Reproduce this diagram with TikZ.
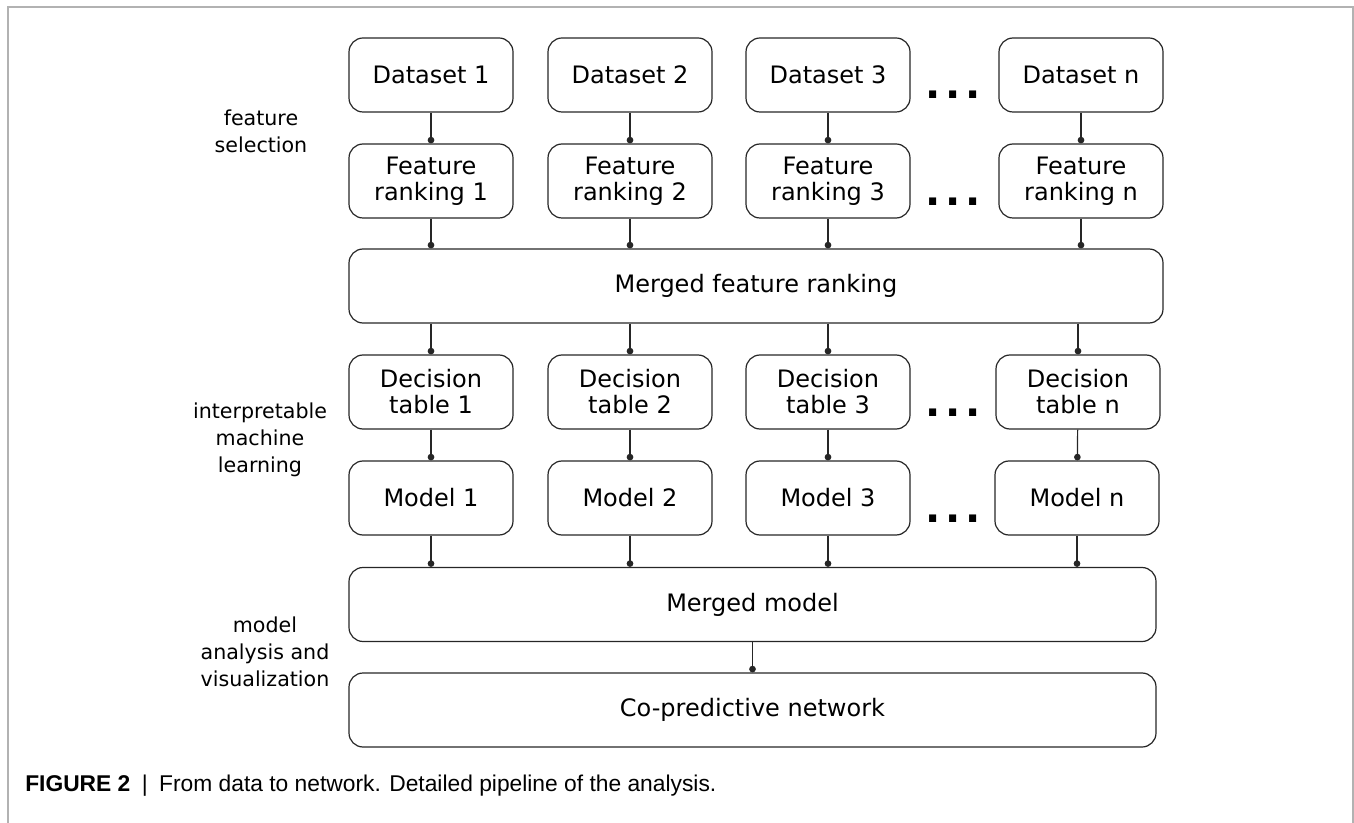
\documentclass[tikz,border=0pt]{standalone}
\usepackage{fontspec}
\setmainfont{DejaVu Sans}
\newfontfamily\capfont{Liberation Sans}
\usetikzlibrary{arrows.meta}

\begin{document}
\begin{tikzpicture}[x=0.5pt,y=-0.5pt,
    line width=0.6pt,
    box/.style={draw=black!85,rounded corners=7pt,minimum width=82pt,minimum height=37pt,
        inner sep=0pt,align=center,font=\fontsize{12}{13}\selectfont},
    widebox/.style={box,minimum width=#1},
    link/.style={draw=black!85,-{Circle[length=3.3pt]}},
    dots/.style={anchor=base,font=\bfseries\fontsize{20}{20}\selectfont},
    side/.style={align=center,font=\fontsize{10.3}{13.5}\selectfont}]
    \useasboundingbox (0,0) rectangle (1354,823);
    \draw[gray!60] (8,823)--(8,7)--(1353,7)--(1353,823);
    % stage names
    \node[side] (selection) at (261,131) {feature\\selection};
    \node[side] (learning) at (260,440) {interpretable\\machine\\learning};
    \node[side] (analysis) at (265,652) {model\\analysis and\\visualization};
    % datasets
    \node[box] (ds1) at (431,75) {Dataset 1};
    \node[box] (ds2) at (630,75) {Dataset 2};
    \node[box] (ds3) at (828,75) {Dataset 3};
    \node[box] (dsn) at (1081,75) {Dataset n};
    \node[dots] (dotsA) at (953,99) {.\kern2.5pt.\kern2.5pt.};
    % feature rankings
    \node[box] (fr1) at (431,181) {Feature\\ranking 1};
    \node[box] (fr2) at (630,181) {Feature\\ranking 2};
    \node[box] (fr3) at (828,181) {Feature\\ranking 3};
    \node[box] (frn) at (1081,181) {Feature\\ranking n};
    \node[dots] (dotsB) at (953,206) {.\kern2.5pt.\kern2.5pt.};
    \node[widebox=407pt] (mfr) at (756,286) {Merged feature ranking};
    % decision tables and models
    \node[box] (dt1) at (431,392) {Decision\\table 1};
    \node[box] (dt2) at (630,392) {Decision\\table 2};
    \node[box] (dt3) at (828,392) {Decision\\table 3};
    \node[box] (dtn) at (1078,392) {Decision\\table n};
    \node[dots] (dotsC) at (953,416) {.\kern2.5pt.\kern2.5pt.};
    \node[box] (m1) at (431,498) {Model 1};
    \node[box] (m2) at (630,498) {Model 2};
    \node[box] (m3) at (828,498) {Model 3};
    \node[box] (mn) at (1077,498) {Model n};
    \node[dots] (dotsD) at (953,522) {.\kern2.5pt.\kern2.5pt.};
    \node[widebox=403.5pt] (mm) at (752.5,604.5) {Merged model};
    \node[widebox=403.5pt] (cp) at (752.5,710) {Co-predictive network};
    % connectors
    \foreach \c in {1,2,3,n}{
        \draw[link] (ds\c) -- (fr\c);
        \draw[link] (fr\c) -- (fr\c |- mfr.north);
        \draw[link] (mfr.south -| dt\c) -- (dt\c);
        \draw[link] (dt\c) -- (m\c);
        \draw[link] (m\c) -- (m\c |- mm.north);
    }
    \draw[link] (mm) -- (cp);
    \node[anchor=base west,font=\capfont\fontsize{11.4}{13}\selectfont] (caption) at (18,791)
        {\textbf{FIGURE 2}\enspace|\enspace From data to network. Detailed pipeline of the analysis.};
\end{tikzpicture}
\end{document}
